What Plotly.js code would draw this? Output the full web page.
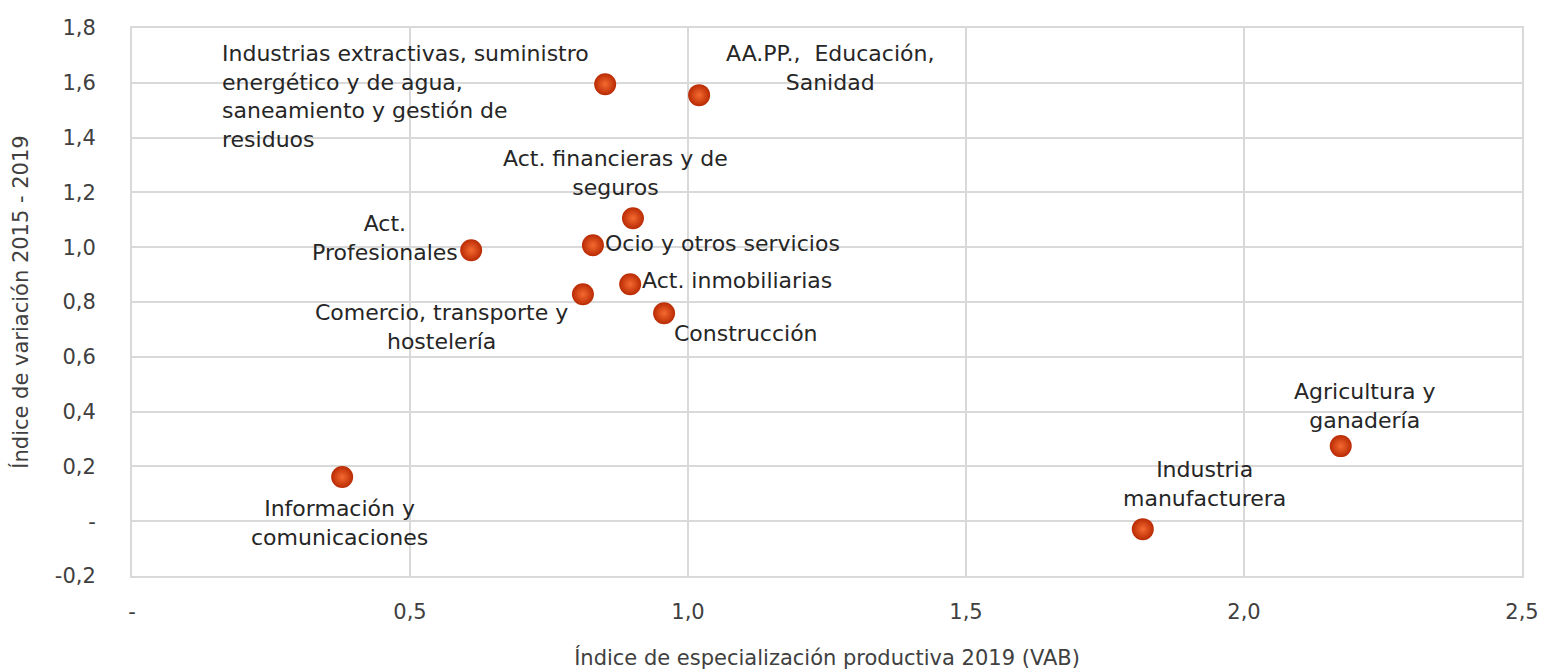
<!DOCTYPE html>
<html>
<head>
<meta charset="utf-8">
<script src="https://cdn.plot.ly/plotly-3.0.1.min.js"></script>
<style>html,body{margin:0;padding:0;background:#fff;}#chart{width:1544px;height:672px;}</style>
</head>
<body>
<div id="chart"></div>
<script>
var sectors = [
  "Industrias extractivas, suministro<br>energético y de agua,<br>saneamiento y gestión de<br>residuos",
  "AA.PP.,  Educación,<br>Sanidad",
  "Act. financieras y de<br>seguros",
  "Act.<br>Profesionales",
  "Ocio y otros servicios",
  "Act. inmobiliarias",
  "Comercio, transporte y<br>hostelería",
  "Construcción",
  "Información y<br>comunicaciones",
  "Industria<br>manufacturera",
  "Agricultura y<br>ganadería"
];
var especializacion = [0.851, 1.020, 0.901, 0.610, 0.829, 0.896, 0.811, 0.957, 0.378, 1.818, 2.174];
var variacion       = [1.595, 1.555, 1.106, 0.989, 1.007, 0.865, 0.828, 0.759, 0.161, -0.029, 0.274];

var xTickVals = [0, 0.5, 1.0, 1.5, 2.0, 2.5];
var xTickText = ["-", "0,5", "1,0", "1,5", "2,0", "2,5"];
var yTickVals = [-0.2, 0, 0.2, 0.4, 0.6, 0.8, 1.0, 1.2, 1.4, 1.6, 1.8];
var yTickText = ["-0,2", "-", "0,2", "0,4", "0,6", "0,8", "1,0", "1,2", "1,4", "1,6", "1,8"];

// label placement (styling only): [xanchor, align, xshift, yshift]
var labelPos = [
  ["right", "left", -14, -12],
  ["center", "center", 131, 27],
  ["center", "center", -17, 45],
  ["right", "center", -11, 12],
  ["left", "left", 10, 2],
  ["left", "left", 10, 4],
  ["center", "center", -141, -33],
  ["left", "left", 8, -20],
  ["center", "center", -3, -46],
  ["center", "center", 62, 45],
  ["center", "center", 24, 40]
];

var FONT = "DejaVu Sans";
var annotations = sectors.map(function(s, i) {
  var p = labelPos[i];
  return {
    x: especializacion[i], y: variacion[i], xref: "x", yref: "y",
    text: s, showarrow: false,
    xanchor: p[0], yanchor: "middle", align: p[1],
    xshift: p[2], yshift: p[3],
    font: {family: FONT, size: 22, color: "#262626"}
  };
});

var trace = {
  type: "scatter", mode: "markers",
  x: especializacion, y: variacion,
  marker: {
    size: 22, color: "#b92a04",
    gradient: {type: "radial", color: "#f56a30"},
    line: {width: 0}
  },
  hoverinfo: "skip"
};

var layout = {
  width: 1544, height: 672,
  margin: {l: 132, r: 22, t: 28, b: 96},
  paper_bgcolor: "#ffffff", plot_bgcolor: "#ffffff",
  showlegend: false,
  font: {family: FONT, color: "#404040"},
  xaxis: {
    range: [0, 2.5], tickvals: xTickVals, ticktext: xTickText,
    showgrid: true, gridcolor: "#d9d9d9", gridwidth: 2,
    showline: true, linecolor: "#d9d9d9", linewidth: 2, mirror: true,
    zeroline: false, ticks: "", ticklen: 0, ticklabelstandoff: 16,
    tickfont: {family: FONT, size: 21, color: "#404040"},
    title: {text: "Índice de especialización productiva 2019 (VAB)", font: {family: FONT, size: 21, color: "#404040"}, standoff: 27}
  },
  yaxis: {
    range: [-0.2, 1.8], tickvals: yTickVals, ticktext: yTickText,
    showgrid: true, gridcolor: "#d9d9d9", gridwidth: 2,
    showline: true, linecolor: "#d9d9d9", linewidth: 2, mirror: true,
    zeroline: false, ticks: "", ticklen: 0, ticklabelstandoff: 30,
    tickfont: {family: FONT, size: 21, color: "#404040"},
    title: {text: "Índice de variación 2015 - 2019", font: {family: FONT, size: 21, color: "#404040"}, standoff: 20}
  },
  annotations: annotations
};

Plotly.newPlot("chart", [trace], layout, {displayModeBar: false, staticPlot: true});
</script>
</body>
</html>
